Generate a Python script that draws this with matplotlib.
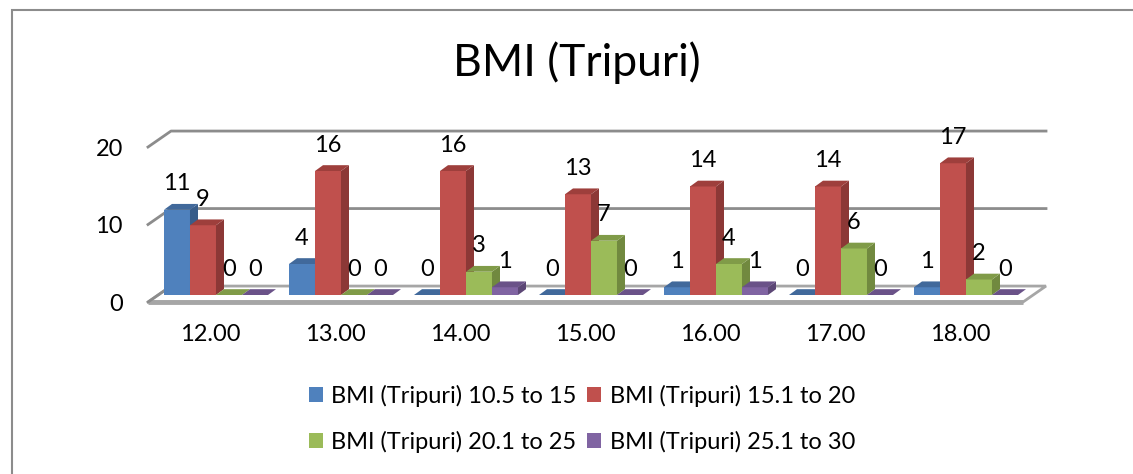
import matplotlib
matplotlib.use("Agg")
import matplotlib.pyplot as plt
from matplotlib.patches import Polygon, Rectangle, Patch

plt.rcParams["font.family"] = ["Lato", "DejaVu Sans"]

# Data
categories = ["12.00", "13.00", "14.00", "15.00", "16.00", "17.00", "18.00"]
series_names = [
    "BMI (Tripuri) 10.5 to 15",
    "BMI (Tripuri) 15.1 to 20",
    "BMI (Tripuri) 20.1 to 25",
    "BMI (Tripuri) 25.1 to 30",
]
bmi_10_15 = [11, 4, 0, 0, 1, 0, 1]
bmi_15_20 = [9, 16, 16, 13, 14, 14, 17]
bmi_20_25 = [0, 0, 3, 7, 4, 6, 2]
bmi_25_30 = [0, 0, 1, 0, 1, 0, 0]
y_ticks = [0, 10, 20]

series = [bmi_10_15, bmi_15_20, bmi_20_25, bmi_25_30]

# Face / side / top shades for each series (Office 2007 palette)
face_colors = ["#4F81BD", "#C0504D", "#9BBB59", "#8064A2"]
side_colors = ["#385D8A", "#8C3836", "#71893F", "#5C4776"]
top_colors = ["#41699B", "#9E3F3C", "#809B48", "#6A5288"]

W, H = 1133, 474
fig = plt.figure(figsize=(W / 100, H / 100), dpi=100)
ax = fig.add_axes([0, 0, 1, 1])
ax.set_xlim(-1.184, 7.88)
ax.set_ylim(-22.19, 38.97)
ax.axis("off")

FS = 17

# Outer chart frame
fig.patches.append(Rectangle((12 / W, -0.1), 1.2, 1.1 - 10 / H, transform=fig.transFigure,
                             fill=False, edgecolor="#8C8C8C", linewidth=1.5))

n = len(categories)
DX, DY = 0.184, 2.06          # depth of the floor / back wall
grid_color = "#8C8C8C"

# Floor slab
floor = Polygon([(0, 0), (n, 0), (n + DX, DY), (DX, DY)], closed=True,
                facecolor="white", edgecolor="#A6A6A6", linewidth=2, zorder=1)
ax.add_patch(floor)
ax.plot([0, n], [0, 0], color="#A6A6A6", linewidth=3.5, zorder=1,
        solid_capstyle="butt")

# Gridlines on the side and back walls
for v in y_ticks[1:]:
    ax.plot([0, DX, n + DX], [v, v + DY, v + DY], color=grid_color,
            linewidth=2, zorder=0.5)
ax.plot([0, DX], [0, DY], color=grid_color, linewidth=2, zorder=1.2)

# Value axis labels
for v in y_ticks:
    ax.text(-0.2, v - 0.3, str(v), ha="right", va="center", fontsize=FS)

# Bars
frac = 0.44                      # depth position of bars within the floor
bw = 0.208                       # bar width
bdx, bdy = 0.064, 0.75           # bar depth
x_start = 0.047 + frac * DX
base = frac * DY
z = 2
for i in range(n):
    for k, vals in enumerate(series):
        val = vals[i]
        x0 = i + x_start + k * bw
        x1 = x0 + bw
        y0 = base
        y1 = base + val
        if val > 0:
            ax.add_patch(Polygon([(x0, y0), (x1, y0), (x1, y1), (x0, y1)],
                                 facecolor=face_colors[k], edgecolor="none", zorder=z))
            ax.add_patch(Polygon([(x1, y0), (x1 + bdx, y0 + bdy), (x1 + bdx, y1 + bdy), (x1, y1)],
                                 facecolor=side_colors[k], edgecolor="none", zorder=z))
        ax.add_patch(Polygon([(x0, y1), (x1, y1), (x1 + bdx, y1 + bdy), (x0 + bdx, y1 + bdy)],
                             facecolor=top_colors[k], edgecolor="none", zorder=z))
        z += 0.01
        ax.text((x0 + x1) / 2, y1 + 3.35, str(val), ha="center", va="center",
                fontsize=FS, zorder=10)

# Category labels
for i, c in enumerate(categories):
    ax.text(i + 0.5, -4.2, c, ha="center", va="center", fontsize=FS)

# Title
fig.text(577 / W, 1 - 63 / H, "BMI (Tripuri)", ha="center", va="center", fontsize=32)

# Legend (filled column-wise, so order gives rows: blue/red, green/purple)
handles = [Patch(facecolor=face_colors[k]) for k in range(4)]
order = [0, 2, 1, 3]
fig.legend([handles[k] for k in order], [series_names[k] for k in order],
           ncol=2, loc="center", bbox_to_anchor=(582 / W, 1 - 419 / H),
           frameon=False, fontsize=FS, handlelength=0.6, handleheight=0.6,
           handletextpad=0.35, columnspacing=0.45, labelspacing=1.0)

fig.savefig("out.png", dpi=100)
